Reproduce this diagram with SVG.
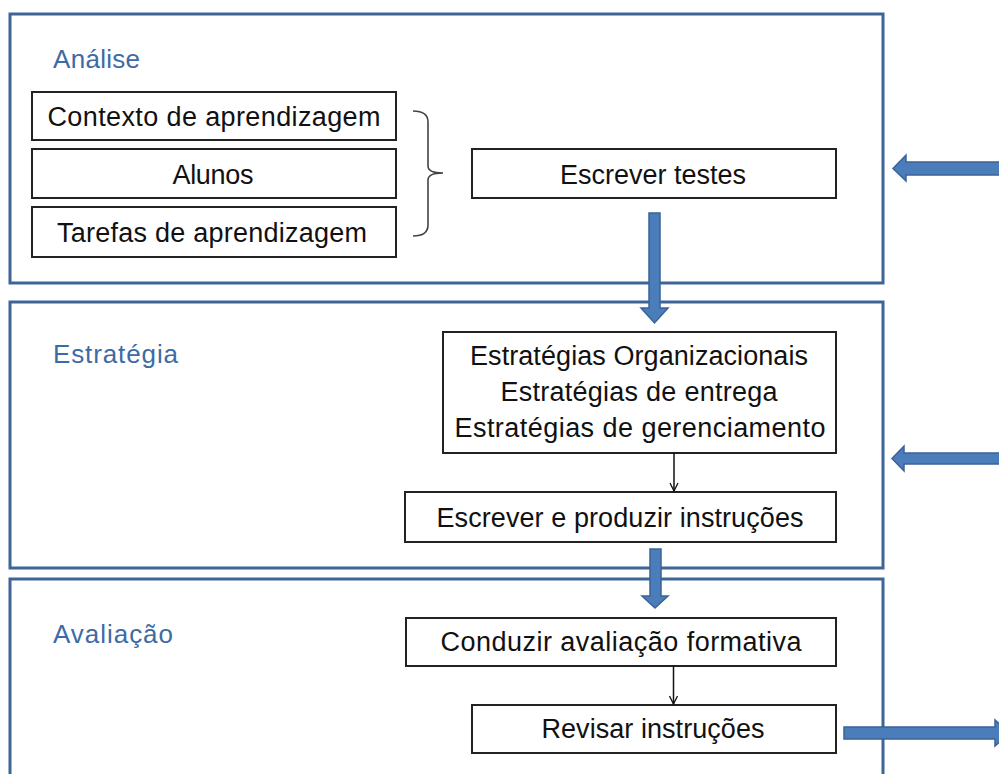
<svg xmlns="http://www.w3.org/2000/svg" width="999" height="774" viewBox="0 0 999 774">
<style>
.panel{fill:none;stroke:#3E6597;stroke-width:3}
.box{fill:#fff;stroke:#222;stroke-width:2}
.t{font-family:"Liberation Sans",Arial,sans-serif;font-size:27px;fill:#111;text-anchor:middle}
.lbl{font-family:"Liberation Sans",Arial,sans-serif;font-size:26px;fill:#3D6BA6}
.big{fill:#4A7DBA;stroke:#3A6396;stroke-width:1.5}
.thin{fill:none;stroke:#111;stroke-width:1.5}
</style>
<defs>
<marker id="open" viewBox="0 0 10 10" refX="9" refY="5" markerWidth="10" markerHeight="10" markerUnits="userSpaceOnUse" orient="auto">
<path d="M1,1 L9,5 L1,9" fill="none" stroke="#111" stroke-width="1.3"/>
</marker>
</defs>
<rect width="999" height="774" fill="#fff"/>
<g id="panel-analise">
<rect class="panel" x="10" y="14" width="873" height="269"/>
<text class="lbl" x="53" y="68" textLength="87">Análise</text>
</g>
<g id="panel-estrategia">
<rect class="panel" x="10" y="302" width="873" height="266"/>
<text class="lbl" x="53" y="363" textLength="125">Estratégia</text>
</g>
<g id="panel-avaliacao">
<rect class="panel" x="10" y="579" width="873" height="210"/>
<text class="lbl" x="53" y="643" textLength="120">Avaliação</text>
</g>
<g id="contexto">
<rect class="box" x="32" y="92" width="364" height="48"/>
<text class="t" x="214" y="126" textLength="333">Contexto de aprendizagem</text>
</g>
<g id="alunos">
<rect class="box" x="32" y="149" width="364" height="49"/>
<text class="t" x="213" y="184" textLength="81">Alunos</text>
</g>
<g id="tarefas">
<rect class="box" x="32" y="207" width="364" height="50"/>
<text class="t" x="212" y="242" textLength="310">Tarefas de aprendizagem</text>
</g>
<g id="escrever-testes">
<rect class="box" x="472" y="149" width="364" height="49"/>
<text class="t" x="653" y="184" textLength="186">Escrever testes</text>
</g>
<g id="estrategias">
<rect class="box" x="443" y="332" width="393" height="121"/>
<text class="t" x="639" y="365" textLength="338">Estratégias Organizacionais</text>
<text class="t" x="639" y="401" textLength="277">Estratégias de entrega</text>
<text class="t" x="640" y="437" textLength="371">Estratégias de gerenciamento</text>
</g>
<g id="escrever-produzir">
<rect class="box" x="405" y="492" width="431" height="50"/>
<text class="t" x="620" y="527" textLength="367">Escrever e produzir instruções</text>
</g>
<g id="conduzir">
<rect class="box" x="406" y="618" width="430" height="48"/>
<text class="t" x="621" y="651" textLength="361">Conduzir avaliação formativa</text>
</g>
<g id="revisar">
<rect class="box" x="472" y="705" width="364" height="48"/>
<text class="t" x="653" y="738" textLength="223">Revisar instruções</text>
</g>
<g id="connectors">
<path d="M413,111 Q428,111 428,122 L428,166 Q428,173 443,173 Q428,173 428,180 L428,225 Q428,236 413,236" fill="none" stroke="#444" stroke-width="1.6"/>
<polygon class="big" points="649,213 660,213 660,308 668,308 654.5,323 641,308 649,308"/>
<polygon class="big" points="650,549 661,549 661,596 668,596 655,608 642,596 650,596"/>
<polygon class="big" points="1005,162 906,162 906,155 893,168.5 906,181 906,175 1005,175"/>
<polygon class="big" points="1005,453 904,453 904,446 892,458.5 904,471 904,464 1005,464"/>
<polygon class="big" points="844,727 995,727 995,720 1010,733 995,746 995,739 844,739"/>
<line class="thin" x1="674" y1="453" x2="674" y2="491" marker-end="url(#open)"/>
<line class="thin" x1="673.5" y1="666" x2="673.5" y2="704" marker-end="url(#open)"/>
</g>
</svg>
